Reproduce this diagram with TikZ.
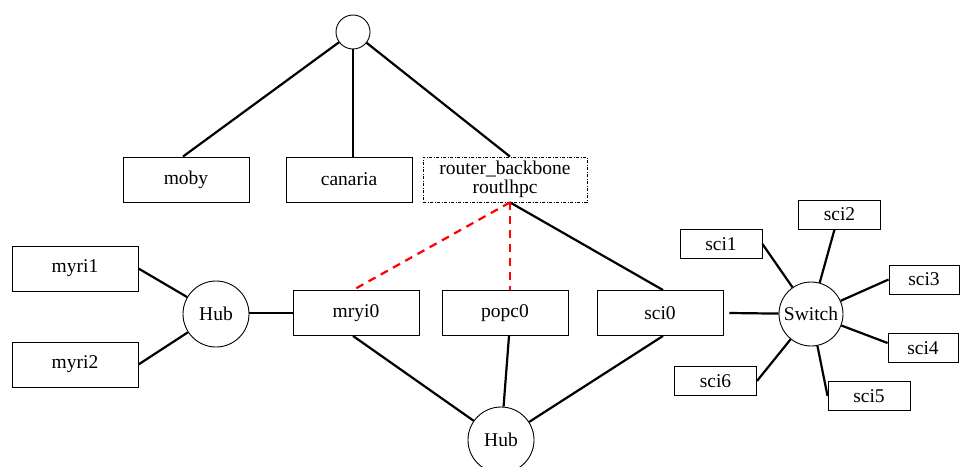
\documentclass[tikz,border=0pt]{standalone}
\usepackage{fontspec}
\setmainfont{Liberation Serif}
\begin{document}
\begin{tikzpicture}[x=1pt,y=-1pt,
  every node/.style={font=\fontsize{19.5}{18.5}\selectfont, inner sep=0pt},
  bigbox/.style={draw, line width=0.9pt, minimum width=126pt, minimum height=45pt},
  scibox/.style={draw, line width=0.9pt, minimum width=82pt, minimum height=29pt},
  hubnode/.style={draw, circle, line width=0.9pt, minimum size=66pt},
  link/.style={line width=2.2pt},
  redlink/.style={line width=2.2pt, red, dash pattern=on 8pt off 6pt}]
\useasboundingbox (0,0) rectangle (961,466);
% nodes
\node[draw, circle, line width=0.9pt, minimum size=34pt] (top) at (353,32) {};
\node[bigbox] (moby) at (186,179.5) {moby};
\node[bigbox] (canaria) at (349,179.5) {canaria};
\node[draw, line width=0.8pt, minimum width=164pt, minimum height=45pt,
      dash pattern=on 3pt off 1.5pt on 1pt off 1.5pt, align=center] (router) at (505,179.5)
      {router\_backbone\\routlhpc};
\node[bigbox] (myri1) at (75,268.5) {myri1};
\node[bigbox] (myri2) at (75,364.5) {myri2};
\node[hubnode] (hubL) at (216,314) {Hub};
\node[bigbox] (mryi0) at (356,313) {mryi0};
\node[bigbox] (popc0) at (505,313) {popc0};
\node[bigbox] (sci0) at (660,313) {sci0};
\node[hubnode] (hubB) at (501,440) {Hub};
\node[hubnode, minimum size=64pt] (sw) at (811,314) {Switch};
\node[scibox] (sci1) at (721,244) {sci1};
\node[scibox] (sci2) at (839.5,214.5) {sci2};
\node[scibox, minimum width=70pt] (sci3) at (924,279.5) {sci3};
\node[scibox, minimum width=70pt] (sci4) at (923,348) {sci4};
\node[scibox] (sci5) at (869,396) {sci5};
\node[scibox] (sci6) at (715.5,381) {sci6};
% links
\coordinate (rtop) at ([xshift=5pt]router.north);
\coordinate (rbot) at ([xshift=5pt]router.south);
\draw[link] (top) -- ([xshift=-3pt]moby.north);
\draw[link] (top.south) -- (top.south |- canaria.north);
\draw[link] (top) -- (rtop);
\draw[link] (rbot) -- ([xshift=3pt]sci0.north);
\draw[redlink] (rbot) -- ([xshift=-3pt]mryi0.north);
\draw[redlink] (rbot) -- (rbot |- popc0.north);
\draw[link] (myri1.east) -- (hubL);
\draw[link] (myri2.east) -- (hubL);
\draw[link] (hubL.east |- mryi0.west) -- (mryi0.west);
\draw[link] ([xshift=-3pt]mryi0.south) -- (hubB);
\draw[link] ([xshift=4pt]popc0.south) -- (hubB);
\draw[link] ([xshift=3pt]sci0.south) -- (hubB);
\draw[link] ([xshift=6pt]sci0.east) -- (sw);
\draw[link] (sw) -- (sci1.east);
\draw[link] (sw) -- ([xshift=-5pt]sci2.south);
\draw[link] (sw) -- (sci3.west);
\draw[link] (sw) -- ([yshift=5pt]sci4.west);
\draw[link] (sw) -- (sci5.west);
\draw[link] (sw) -- (sci6.east);
\end{tikzpicture}
\end{document}
